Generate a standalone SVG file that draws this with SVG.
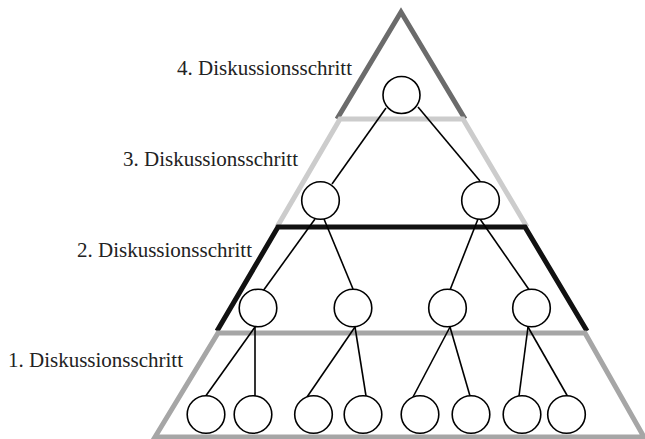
<svg xmlns="http://www.w3.org/2000/svg" width="645" height="439" viewBox="0 0 645 439">
<style>
.lvl{fill:none;stroke-linejoin:miter;stroke-width:5}
.node circle{fill:#fff;stroke:#000;stroke-width:1.6}
.edges line{stroke:#000;stroke-width:1.6}
.lbl{font-family:"Liberation Serif","Times New Roman",serif;font-size:21px;fill:#222}
</style>
<rect width="645" height="439" fill="#fff"/>
<g id="levels">
<polyline class="lvl" stroke="#6b6b6b" points="337,119 401,12 465,119"/>
<polyline class="lvl" stroke="#cccccc" points="277,227 340,119 463,119 527,227"/>
<polyline class="lvl" stroke="#111111" points="217,331 278,227 525,227 587,331"/>
<polygon class="lvl" stroke="#a6a6a6" points="155,437 218,333 585,333 644,437"/>
</g>
<g id="labels">
<text class="lbl" x="177" y="75">4. Diskussionsschritt</text>
<text class="lbl" x="123" y="166">3. Diskussionsschritt</text>
<text class="lbl" x="77" y="257">2. Diskussionsschritt</text>
<text class="lbl" x="8" y="367">1. Diskussionsschritt</text>
</g>
<g class="edges" id="connectors">
<line x1="386" y1="108" x2="332" y2="184"/>
<line x1="418" y1="107" x2="480" y2="181"/>
<line x1="315" y1="219" x2="263" y2="291"/>
<line x1="324" y1="219" x2="353" y2="289"/>
<line x1="478" y1="219" x2="450" y2="290"/>
<line x1="480" y1="219" x2="530" y2="291"/>
<line x1="255" y1="327" x2="205" y2="397"/>
<line x1="255" y1="327" x2="255" y2="396"/>
<line x1="355" y1="327" x2="307" y2="397"/>
<line x1="355" y1="327" x2="366" y2="396"/>
<line x1="450" y1="327" x2="413" y2="397"/>
<line x1="450" y1="327" x2="470" y2="396"/>
<line x1="528" y1="327" x2="519" y2="396"/>
<line x1="528" y1="327" x2="568" y2="397"/>
</g>
<g class="node" id="n4"><circle cx="401.5" cy="95" r="18.5"/></g>
<g class="node" id="n3a"><circle cx="320.5" cy="200.5" r="18.8"/></g>
<g class="node" id="n3b"><circle cx="480.5" cy="200.5" r="18.8"/></g>
<g class="node" id="n2a"><circle cx="258" cy="308" r="18.8"/></g>
<g class="node" id="n2b"><circle cx="353" cy="308" r="18.8"/></g>
<g class="node" id="n2c"><circle cx="447.5" cy="308" r="18.8"/></g>
<g class="node" id="n2d"><circle cx="531.5" cy="308" r="18.8"/></g>
<g class="node" id="n1a"><circle cx="206" cy="414.5" r="18.8"/></g>
<g class="node" id="n1b"><circle cx="253" cy="414.5" r="18.8"/></g>
<g class="node" id="n1c"><circle cx="313.5" cy="414.5" r="18.8"/></g>
<g class="node" id="n1d"><circle cx="363" cy="414.5" r="18.8"/></g>
<g class="node" id="n1e"><circle cx="420" cy="414.5" r="18.8"/></g>
<g class="node" id="n1f"><circle cx="471" cy="414.5" r="18.8"/></g>
<g class="node" id="n1g"><circle cx="522" cy="414.5" r="18.8"/></g>
<g class="node" id="n1h"><circle cx="566.5" cy="414.5" r="18.8"/></g>
</svg>
